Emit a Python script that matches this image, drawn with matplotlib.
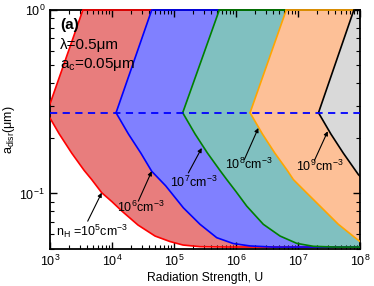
import numpy as np
import matplotlib
matplotlib.use('Agg')
import matplotlib.pyplot as plt
from matplotlib.ticker import NullFormatter

plt.rcParams['font.family'] = ['Liberation Sans', 'DejaVu Sans']
plt.rcParams['mathtext.fontset'] = 'custom'
plt.rcParams['mathtext.rm'] = 'Liberation Sans'
plt.rcParams['mathtext.it'] = 'Liberation Sans:italic'
plt.rcParams['mathtext.bf'] = 'Liberation Sans:bold'

# gas densities, log10(n_H / cm^-3)
n_H_exp = [5, 6, 7, 8, 9]
line_colors = ['red', 'blue', 'green', 'orange', 'black']
fill_colors = ['#e87d7d', '#8080ff', '#80c0c0', '#fdc097', '#d9d9d9']

# upper branch: straight line from the turning point up to a = 1 um  (log10 U, log10 a)
upper_logU = [[2.95, 3.53], [4.065, 4.64], [5.14, 5.73], [6.226, 6.81], [7.33, 7.90]]
upper_loga = [-0.56, 0.0]

# lower branch (log10 U, log10 a)
lower_logU = [
    [2.95, 3.15, 3.35, 3.55, 3.672, 3.834, 4.0, 4.156, 4.419, 4.694, 4.935, 5.145, 5.42, 5.9, 8.0],
    [4.065, 4.265, 4.465, 4.64, 4.865, 5.15, 5.419, 5.689, 5.956, 6.226, 6.6, 8.0],
    [5.14, 5.34, 5.54, 5.74, 5.85, 6.0, 6.173, 6.44, 6.71, 6.98, 7.247, 7.6, 8.0],
    [6.226, 6.426, 6.626, 6.826, 6.924, 7.113, 7.382, 7.65, 7.919, 8.0],
    [7.33, 7.53, 7.73, 7.973, 8.0],
]
lower_loga = [
    [-0.56, -0.676, -0.78, -0.874, -0.924, -0.996, -1.045, -1.095, -1.172, -1.232, -1.262, -1.281, -1.29, -1.292, -1.292],
    [-0.56, -0.676, -0.78, -0.879, -0.958, -1.078, -1.168, -1.241, -1.273, -1.286, -1.292, -1.292],
    [-0.56, -0.676, -0.78, -0.874, -0.924, -0.99, -1.069, -1.168, -1.232, -1.272, -1.288, -1.292, -1.292],
    [-0.56, -0.676, -0.78, -0.874, -0.924, -0.988, -1.078, -1.168, -1.241, -1.262],
    [-0.56, -0.676, -0.78, -0.897, -0.906],
]

a_turn = 10 ** -0.56
x_lim = (1e3, 1e8)
y_lim = (0.05, 1.0)

# arrows (tail, tip) and label centres, log10 coordinates
arrow_tail = [(3.608, -1.151), (4.424, -1.042), (5.231, -0.888), (6.134, -0.815), (7.263, -0.821)]
arrow_tip = [(3.834, -0.996), (4.640, -0.879), (5.447, -0.752), (6.360, -0.643), (7.479, -0.661)]
label_pos = [(3.685, -1.208), (4.465, -1.078), (5.323, -0.942), (6.199, -0.842), (7.355, -0.852)]

fig = plt.figure(figsize=(3.74, 2.86), dpi=100)
ax = fig.add_axes([0.1337, 0.1304, 0.829, 0.8346])
ax.set_xscale('log')
ax.set_yscale('log')

for k in range(len(n_H_exp)):
    uU = 10 ** np.array(upper_logU[k])
    ua = 10 ** np.array(upper_loga)
    lU = 10 ** np.array(lower_logU[k])
    la = 10 ** np.array(lower_loga[k])
    px = np.concatenate([uU[::-1], lU, [x_lim[1]]])
    py = np.concatenate([ua[::-1], la, [y_lim[1]]])
    ax.fill(px, py, color=fill_colors[k], lw=0, zorder=1)

for k in range(len(n_H_exp)):
    uU = 10 ** np.array(upper_logU[k])
    ua = 10 ** np.array(upper_loga)
    lU = 10 ** np.array(lower_logU[k])
    la = 10 ** np.array(lower_loga[k])
    ax.plot(uU, ua, color=line_colors[k], lw=1.2, zorder=3)
    ax.plot(lU, la, color=line_colors[k], lw=1.2, zorder=3)
    nxt = 10 ** upper_logU[k + 1][1] if k + 1 < len(n_H_exp) else x_lim[1]
    ax.plot([uU[1], nxt], [1.0, 1.0], color=line_colors[k], lw=1.2,
            zorder=3, clip_on=False)

ax.axhline(a_turn, color='blue', lw=1.3, ls=(0, (4, 3)), zorder=4)

for k, e in enumerate(n_H_exp):
    ax.annotate('', xy=(10 ** arrow_tip[k][0], 10 ** arrow_tip[k][1]),
                xytext=(10 ** arrow_tail[k][0], 10 ** arrow_tail[k][1]),
                arrowprops=dict(arrowstyle='-|>', color='black', lw=0.8,
                                mutation_scale=6, shrinkA=0, shrinkB=0),
                zorder=5)
    txt = f'10$^{e}$cm$^{{-3}}$'
    if k == 0:
        txt = 'n$_{\\rm H}$ =' + txt
    ax.text(10 ** label_pos[k][0], 10 ** label_pos[k][1], txt,
            fontsize=9, ha='center', va='center', zorder=5)

ax.text(0.032, 0.937, '(a)', transform=ax.transAxes, fontsize=11,
        fontweight='bold', va='center', zorder=5)
ax.text(0.032, 0.853, 'λ=0.5μm', transform=ax.transAxes, fontsize=11,
        va='center', zorder=5)
ax.text(0.032, 0.77, 'a$_{\\rm c}$=0.05μm', transform=ax.transAxes, fontsize=11,
        va='center', zorder=5)

ax.set_xlim(*x_lim)
ax.set_ylim(*y_lim)
ax.set_xlabel('Radiation Strength, U', fontsize=8.7, labelpad=2)
ax.set_ylabel('a$_{\\rm disr}$(μm)', fontsize=9, labelpad=2)
ax.yaxis.set_minor_formatter(NullFormatter())
ax.tick_params(which='both', direction='in', top=True, right=True, labelsize=9)
ax.tick_params(which='major', length=5, width=1)
ax.tick_params(which='minor', length=3, width=0.8)
for s in ax.spines.values():
    s.set_linewidth(1.3)

fig.savefig('out.png', dpi=100)
